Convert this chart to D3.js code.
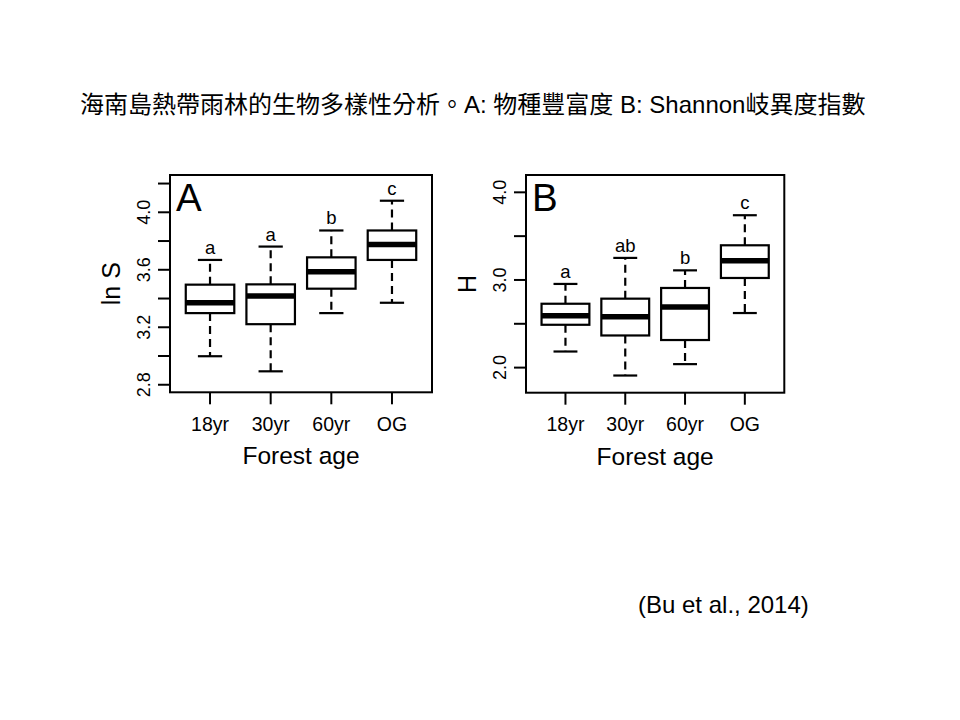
<!DOCTYPE html>
<html>
<head>
<meta charset="utf-8">
<script src="https://cdn.jsdelivr.net/npm/d3@7/dist/d3.min.js"></script>
<style>
  html, body { margin: 0; padding: 0; background: #fff; }
  svg { display: block; }
  text { font-family: "Liberation Sans", Arial, "Noto Sans CJK TC", sans-serif; fill: #000; }
</style>
</head>
<body>
<svg id="chart" width="960" height="720"></svg>
<script>
// ---------- data ----------
const titleText = "海南島熱帶雨林的生物多樣性分析。A: 物種豐富度 B: Shannon岐異度指數";
const citation = "(Bu et al., 2014)";
const categories = ["18yr", "30yr", "60yr", "OG"];
const xAxisTitle = "Forest age";

// Panel A: ln S (species richness)
const lnS_lower  = [2.995, 2.890, 3.295, 3.367];
const lnS_q1     = [3.295, 3.218, 3.465, 3.665];
const lnS_median = [3.367, 3.414, 3.583, 3.772];
const lnS_q3     = [3.493, 3.495, 3.683, 3.870];
const lnS_upper  = [3.665, 3.758, 3.870, 4.077];
const lnS_letters = ["a", "a", "b", "c"];
const lnS_ylim = [2.8, 4.2];
const lnS_ticks = [2.8, 3.0, 3.2, 3.4, 3.6, 3.8, 4.0, 4.2];
const lnS_tickLabels = ["2.8", "", "3.2", "", "3.6", "", "4.0", ""];

// Panel B: H (Shannon diversity)
const H_lower  = [2.178, 1.904, 2.034, 2.617];
const H_q1     = [2.483, 2.361, 2.309, 3.017];
const H_median = [2.586, 2.575, 2.686, 3.215];
const H_q3     = [2.723, 2.781, 2.903, 3.390];
const H_upper  = [2.949, 3.246, 3.104, 3.733];
const H_letters = ["a", "ab", "b", "c"];
const H_ylim = [1.8, 4.1];
const H_ticks = [2.0, 2.5, 3.0, 3.5, 4.0];
const H_tickLabels = ["2.0", "", "3.0", "", "4.0"];

// ---------- drawing ----------
const svg = d3.select("#chart");

svg.append("text")
  .attr("x", 80).attr("y", 113)
  .style("font-size", "24px")
  .text(titleText);

svg.append("text")
  .attr("x", 638).attr("y", 613)
  .style("font-size", "24px")
  .text(citation);

function expand(lim) {
  const r = lim[1] - lim[0];
  return [lim[0] - 0.04 * r, lim[1] + 0.04 * r];
}

function panel(opts) {
  const { left, right, top, bottom, lower, q1, median, q3, upper, letters,
          ylim, ticks, tickLabels, ylab, tag } = opts;
  const g = svg.append("g");

  const x = d3.scaleBand()
    .domain(categories)
    .range([left, right])
    .paddingInner(0)
    .paddingOuter(0.16);
  const bw = x.bandwidth();
  const boxW = 0.8 * bw;
  const cx = c => x(c) + bw / 2;

  const y = d3.scaleLinear().domain(expand(ylim)).range([bottom, top]);

  const rows = categories.map((c, i) => ({
    c, lo: lower[i], q1: q1[i], med: median[i], q3: q3[i], hi: upper[i], letter: letters[i]
  }));

  // whiskers (dashed)
  const wg = g.append("g").attr("stroke", "#000").attr("stroke-width", 2.2)
    .attr("stroke-dasharray", "8,5").attr("fill", "none");
  wg.selectAll("line.up").data(rows).join("line").attr("class", "up")
    .attr("x1", d => cx(d.c)).attr("x2", d => cx(d.c))
    .attr("y1", d => y(d.q3)).attr("y2", d => y(d.hi));
  wg.selectAll("line.dn").data(rows).join("line").attr("class", "dn")
    .attr("x1", d => cx(d.c)).attr("x2", d => cx(d.c))
    .attr("y1", d => y(d.q1)).attr("y2", d => y(d.lo));

  // staples
  const sg = g.append("g").attr("stroke", "#000").attr("stroke-width", 2.2);
  sg.selectAll("line.hi").data(rows).join("line").attr("class", "hi")
    .attr("x1", d => cx(d.c) - boxW / 4).attr("x2", d => cx(d.c) + boxW / 4)
    .attr("y1", d => y(d.hi)).attr("y2", d => y(d.hi));
  sg.selectAll("line.lo").data(rows).join("line").attr("class", "lo")
    .attr("x1", d => cx(d.c) - boxW / 4).attr("x2", d => cx(d.c) + boxW / 4)
    .attr("y1", d => y(d.lo)).attr("y2", d => y(d.lo));

  // boxes
  g.append("g").selectAll("rect").data(rows).join("rect")
    .attr("x", d => cx(d.c) - boxW / 2)
    .attr("width", boxW)
    .attr("y", d => y(d.q3))
    .attr("height", d => y(d.q1) - y(d.q3))
    .attr("fill", "#fff").attr("stroke", "#000").attr("stroke-width", 2.2);

  // medians
  g.append("g").selectAll("line").data(rows).join("line")
    .attr("x1", d => cx(d.c) - boxW / 2).attr("x2", d => cx(d.c) + boxW / 2)
    .attr("y1", d => y(d.med)).attr("y2", d => y(d.med))
    .attr("stroke", "#000").attr("stroke-width", 5.5);

  // significance letters
  g.append("g").selectAll("text").data(rows).join("text")
    .attr("x", d => cx(d.c))
    .attr("y", d => y(d.hi) - 6)
    .attr("text-anchor", "middle")
    .style("font-size", "18.5px")
    .text(d => d.letter);

  // frame
  g.append("rect")
    .attr("x", left).attr("y", top)
    .attr("width", right - left).attr("height", bottom - top)
    .attr("fill", "none").attr("stroke", "#000").attr("stroke-width", 2);

  // y axis
  const ya = g.append("g")
    .attr("transform", `translate(${left},0)`)
    .call(d3.axisLeft(y).tickValues(ticks).tickSize(12).tickSizeOuter(0)
      .tickFormat((d, i) => tickLabels[i]));
  ya.select(".domain").remove();
  ya.selectAll(".tick line").attr("stroke", "#000").attr("stroke-width", 2);
  ya.selectAll(".tick text")
    .attr("transform", "rotate(-90)")
    .attr("x", 0).attr("y", -20.5).attr("dy", 0)
    .attr("text-anchor", "middle")
    .style("font-size", "18px")
    .style("font-family", '"Liberation Sans", Arial, sans-serif')
    .attr("fill", "#000");
  g.append("line")
    .attr("x1", left).attr("x2", left)
    .attr("y1", y(ticks[0])).attr("y2", y(ticks[ticks.length - 1]))
    .attr("stroke", "#000").attr("stroke-width", 2);

  // x axis
  const xa = g.append("g")
    .attr("transform", `translate(0,${bottom})`)
    .call(d3.axisBottom(x).tickSize(12).tickSizeOuter(0));
  xa.select(".domain").remove();
  xa.selectAll(".tick line").attr("stroke", "#000").attr("stroke-width", 2);
  xa.selectAll(".tick text")
    .attr("y", 38.7).attr("dy", 0)
    .style("font-size", "19.5px")
    .style("font-family", '"Liberation Sans", Arial, sans-serif')
    .attr("fill", "#000");

  // axis titles
  g.append("text")
    .attr("x", (left + right) / 2).attr("y", bottom + 72)
    .attr("text-anchor", "middle")
    .style("font-size", "24.5px")
    .text(xAxisTitle);
  g.append("text")
    .attr("transform", `translate(${left - 50},${(top + bottom) / 2}) rotate(-90)`)
    .attr("text-anchor", "middle")
    .style("font-size", "25px")
    .text(ylab);

  // panel tag
  g.append("text")
    .attr("x", left + 6).attr("y", top + 35.7)
    .style("font-size", "38.5px")
    .text(tag);
}

panel({
  left: 170, right: 432, top: 175, bottom: 392.3,
  lower: lnS_lower, q1: lnS_q1, median: lnS_median, q3: lnS_q3, upper: lnS_upper,
  letters: lnS_letters, ylim: lnS_ylim, ticks: lnS_ticks, tickLabels: lnS_tickLabels,
  ylab: "ln S", tag: "A"
});

panel({
  left: 526, right: 784.3, top: 175, bottom: 392.7,
  lower: H_lower, q1: H_q1, median: H_median, q3: H_q3, upper: H_upper,
  letters: H_letters, ylim: H_ylim, ticks: H_ticks, tickLabels: H_tickLabels,
  ylab: "H", tag: "B"
});
</script>
</body>
</html>
